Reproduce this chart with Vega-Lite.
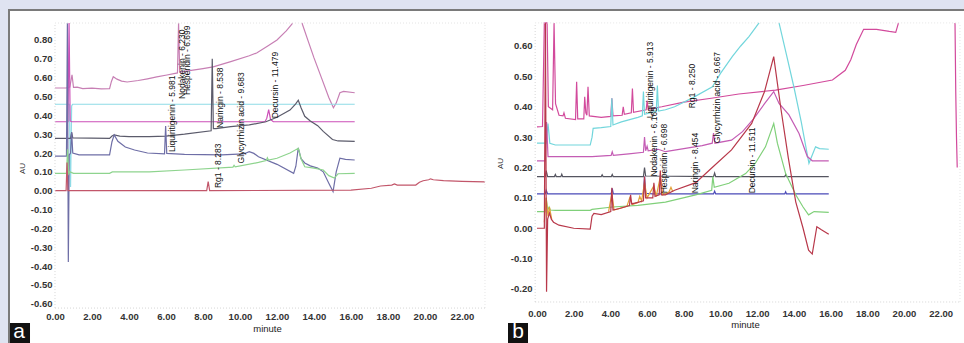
{
"$schema": "https://vega.github.io/schema/vega-lite/v6.json",
"background": "#dfe3f1",
"padding": {"left": 8, "top": 9, "right": 0, "bottom": 0},
"spacing": 0,
"config": {"view": {"stroke": null, "fill": "white"}, "concat": {"spacing": 0},
 "axis": {"domain": false, "ticks": false, "tickSize": 0, "grid": false, "labelFlush": false, "labelOverlap": false, "labelFont": "Liberation Sans", "labelFontSize": 9.5, "labelFontWeight": "bold", "labelColor": "#333", "titleFont": "Liberation Sans", "titleFontWeight": "normal", "titleColor": "#222"}},
"resolve": {"scale": {"color": "independent", "x": "independent", "y": "independent"}},
"datasets": {
"A": [
{"s":"mauve","g":1,"t":0,"v":0.545},{"s":"mauve","g":1,"t":0.6,"v":0.545},{"s":"mauve","g":1,"t":0.8,"v":0.55},{"s":"mauve","g":1,"t":0.92,"v":0.615},{"s":"mauve","g":1,"t":1.0,"v":0.548},{"s":"mauve","g":1,"t":1.2,"v":0.55},{"s":"mauve","g":1,"t":1.5,"v":0.542},{"s":"mauve","g":1,"t":2.0,"v":0.544},{"s":"mauve","g":1,"t":2.5,"v":0.54},{"s":"mauve","g":1,"t":2.95,"v":0.542},{"s":"mauve","g":1,"t":3.05,"v":0.58},{"s":"mauve","g":1,"t":3.15,"v":0.605},{"s":"mauve","g":1,"t":3.35,"v":0.592},{"s":"mauve","g":1,"t":3.6,"v":0.582},{"s":"mauve","g":1,"t":3.9,"v":0.577},{"s":"mauve","g":1,"t":4.5,"v":0.585},{"s":"mauve","g":1,"t":5.0,"v":0.594},{"s":"mauve","g":1,"t":5.5,"v":0.604},{"s":"mauve","g":1,"t":6.05,"v":0.614},{"s":"mauve","g":1,"t":6.62,"v":0.625},{"s":"mauve","g":1,"t":6.68,"v":0.89},{"s":"mauve","g":1,"t":6.74,"v":0.63},{"s":"mauve","g":1,"t":7.0,"v":0.633},{"s":"mauve","g":1,"t":8.0,"v":0.648},{"s":"mauve","g":1,"t":8.55,"v":0.657},{"s":"mauve","g":1,"t":9.5,"v":0.685},{"s":"mauve","g":1,"t":10.5,"v":0.716},{"s":"mauve","g":1,"t":10.9,"v":0.731},{"s":"mauve","g":1,"t":11.5,"v":0.768},{"s":"mauve","g":1,"t":12.0,"v":0.8},{"s":"mauve","g":1,"t":12.5,"v":0.848},{"s":"mauve","g":1,"t":12.85,"v":0.89},
{"s":"mauve","g":2,"t":13.35,"v":0.89},{"s":"mauve","g":2,"t":13.7,"v":0.79},{"s":"mauve","g":2,"t":14.0,"v":0.705},{"s":"mauve","g":2,"t":14.4,"v":0.6},{"s":"mauve","g":2,"t":14.8,"v":0.495},{"s":"mauve","g":2,"t":15.05,"v":0.44},{"s":"mauve","g":2,"t":15.2,"v":0.465},{"s":"mauve","g":2,"t":15.4,"v":0.52},{"s":"mauve","g":2,"t":15.6,"v":0.527},{"s":"mauve","g":2,"t":16.2,"v":0.52},
{"s":"cyan","g":1,"t":0,"v":0.459},{"s":"cyan","g":1,"t":0.78,"v":0.459},{"s":"cyan","g":1,"t":0.84,"v":0.02},{"s":"cyan","g":1,"t":0.9,"v":0.45},{"s":"cyan","g":1,"t":0.95,"v":0.459},{"s":"cyan","g":1,"t":16.2,"v":0.459},
{"s":"magenta","g":1,"t":0,"v":0.366},{"s":"magenta","g":1,"t":0.7,"v":0.366},{"s":"magenta","g":1,"t":0.76,"v":0.89},{"s":"magenta","g":1,"t":0.82,"v":0.37},{"s":"magenta","g":1,"t":0.9,"v":0.366},{"s":"magenta","g":1,"t":11.35,"v":0.366},{"s":"magenta","g":1,"t":11.45,"v":0.385},{"s":"magenta","g":1,"t":11.55,"v":0.43},{"s":"magenta","g":1,"t":11.65,"v":0.378},{"s":"magenta","g":1,"t":11.8,"v":0.366},{"s":"magenta","g":1,"t":16.2,"v":0.366},
{"s":"gray","g":1,"t":0,"v":0.278},{"s":"gray","g":1,"t":0.84,"v":0.278},{"s":"gray","g":1,"t":0.9,"v":0.31},{"s":"gray","g":1,"t":0.96,"v":0.28},{"s":"gray","g":1,"t":2.95,"v":0.278},{"s":"gray","g":1,"t":3.08,"v":0.29},{"s":"gray","g":1,"t":3.2,"v":0.296},{"s":"gray","g":1,"t":3.5,"v":0.29},{"s":"gray","g":1,"t":4.0,"v":0.287},{"s":"gray","g":1,"t":5.1,"v":0.287},{"s":"gray","g":1,"t":6.0,"v":0.29},{"s":"gray","g":1,"t":7.0,"v":0.3},{"s":"gray","g":1,"t":8.44,"v":0.318},{"s":"gray","g":1,"t":8.5,"v":0.7},{"s":"gray","g":1,"t":8.56,"v":0.33},{"s":"gray","g":1,"t":8.7,"v":0.33},{"s":"gray","g":1,"t":9.5,"v":0.34},{"s":"gray","g":1,"t":10.5,"v":0.349},{"s":"gray","g":1,"t":11.4,"v":0.366},{"s":"gray","g":1,"t":12.0,"v":0.39},{"s":"gray","g":1,"t":12.7,"v":0.428},{"s":"gray","g":1,"t":13.0,"v":0.46},{"s":"gray","g":1,"t":13.15,"v":0.48},{"s":"gray","g":1,"t":13.3,"v":0.44},{"s":"gray","g":1,"t":13.5,"v":0.395},{"s":"gray","g":1,"t":13.8,"v":0.37},{"s":"gray","g":1,"t":14.2,"v":0.345},{"s":"gray","g":1,"t":14.5,"v":0.315},{"s":"gray","g":1,"t":15.0,"v":0.272},{"s":"gray","g":1,"t":15.3,"v":0.264},{"s":"gray","g":1,"t":16.2,"v":0.262},
{"s":"slate","g":1,"t":0,"v":0.184},{"s":"slate","g":1,"t":0.62,"v":0.184},{"s":"slate","g":1,"t":0.67,"v":0.89},{"s":"slate","g":1,"t":0.72,"v":-0.378},{"s":"slate","g":1,"t":0.77,"v":0.19},{"s":"slate","g":1,"t":0.84,"v":0.2},{"s":"slate","g":1,"t":0.9,"v":0.31},{"s":"slate","g":1,"t":0.96,"v":0.2},{"s":"slate","g":1,"t":1.3,"v":0.19},{"s":"slate","g":1,"t":2.95,"v":0.19},{"s":"slate","g":1,"t":3.08,"v":0.26},{"s":"slate","g":1,"t":3.2,"v":0.296},{"s":"slate","g":1,"t":3.4,"v":0.262},{"s":"slate","g":1,"t":3.8,"v":0.232},{"s":"slate","g":1,"t":4.3,"v":0.216},{"s":"slate","g":1,"t":5.0,"v":0.2},{"s":"slate","g":1,"t":5.92,"v":0.195},{"s":"slate","g":1,"t":5.98,"v":0.343},{"s":"slate","g":1,"t":6.04,"v":0.198},{"s":"slate","g":1,"t":7.0,"v":0.193},{"s":"slate","g":1,"t":9.0,"v":0.19},{"s":"slate","g":1,"t":10.2,"v":0.195},{"s":"slate","g":1,"t":10.5,"v":0.207},{"s":"slate","g":1,"t":10.75,"v":0.198},{"s":"slate","g":1,"t":11.0,"v":0.18},{"s":"slate","g":1,"t":12.0,"v":0.14},{"s":"slate","g":1,"t":12.9,"v":0.092},{"s":"slate","g":1,"t":13.02,"v":0.13},{"s":"slate","g":1,"t":13.15,"v":0.227},{"s":"slate","g":1,"t":13.3,"v":0.17},{"s":"slate","g":1,"t":13.5,"v":0.147},{"s":"slate","g":1,"t":13.8,"v":0.132},{"s":"slate","g":1,"t":14.2,"v":0.12},{"s":"slate","g":1,"t":14.5,"v":0.1},{"s":"slate","g":1,"t":14.8,"v":0.04},{"s":"slate","g":1,"t":15.03,"v":-0.005},{"s":"slate","g":1,"t":15.2,"v":0.1},{"s":"slate","g":1,"t":15.4,"v":0.173},{"s":"slate","g":1,"t":15.7,"v":0.166},{"s":"slate","g":1,"t":16.2,"v":0.163},
{"s":"green","g":1,"t":0,"v":0.092},{"s":"green","g":1,"t":0.62,"v":0.092},{"s":"green","g":1,"t":0.68,"v":0.22},{"s":"green","g":1,"t":0.74,"v":0.09},{"s":"green","g":1,"t":0.8,"v":0.1},{"s":"green","g":1,"t":1.0,"v":0.092},{"s":"green","g":1,"t":2.95,"v":0.092},{"s":"green","g":1,"t":3.1,"v":0.1},{"s":"green","g":1,"t":5.1,"v":0.1},{"s":"green","g":1,"t":7.0,"v":0.11},{"s":"green","g":1,"t":9.62,"v":0.125},{"s":"green","g":1,"t":9.68,"v":0.135},{"s":"green","g":1,"t":9.74,"v":0.127},{"s":"green","g":1,"t":11.0,"v":0.15},{"s":"green","g":1,"t":11.42,"v":0.16},{"s":"green","g":1,"t":11.48,"v":0.175},{"s":"green","g":1,"t":11.54,"v":0.162},{"s":"green","g":1,"t":12.0,"v":0.172},{"s":"green","g":1,"t":12.7,"v":0.2},{"s":"green","g":1,"t":13.15,"v":0.225},{"s":"green","g":1,"t":13.3,"v":0.17},{"s":"green","g":1,"t":13.5,"v":0.127},{"s":"green","g":1,"t":14.0,"v":0.12},{"s":"green","g":1,"t":14.5,"v":0.11},{"s":"green","g":1,"t":14.8,"v":0.08},{"s":"green","g":1,"t":15.1,"v":0.067},{"s":"green","g":1,"t":15.3,"v":0.09},{"s":"green","g":1,"t":16.2,"v":0.092},
{"s":"red","g":1,"t":0,"v":0.0},{"s":"red","g":1,"t":0.6,"v":0.0},{"s":"red","g":1,"t":0.65,"v":0.15},{"s":"red","g":1,"t":0.7,"v":0.0},{"s":"red","g":1,"t":8.2,"v":0.0},{"s":"red","g":1,"t":8.28,"v":0.048},{"s":"red","g":1,"t":8.36,"v":0.0},{"s":"red","g":1,"t":16.0,"v":0.003},{"s":"red","g":1,"t":17.1,"v":0.013},{"s":"red","g":1,"t":17.6,"v":0.025},{"s":"red","g":1,"t":18.2,"v":0.03},{"s":"red","g":1,"t":18.35,"v":0.036},{"s":"red","g":1,"t":18.5,"v":0.03},{"s":"red","g":1,"t":19.5,"v":0.03},{"s":"red","g":1,"t":19.7,"v":0.045},{"s":"red","g":1,"t":19.9,"v":0.053},{"s":"red","g":1,"t":20.2,"v":0.058},{"s":"red","g":1,"t":20.3,"v":0.063},{"s":"red","g":1,"t":20.45,"v":0.058},{"s":"red","g":1,"t":21.0,"v":0.054},{"s":"red","g":1,"t":22.0,"v":0.05},{"s":"red","g":1,"t":23.24,"v":0.047}
],
"B": [
{"s":"pink","g":1,"t":0,"v":0.334},{"s":"pink","g":1,"t":0.3,"v":0.335},{"s":"pink","g":1,"t":0.4,"v":0.676},{"s":"pink","g":1,"t":0.55,"v":0.676},{"s":"pink","g":1,"t":0.62,"v":0.4},{"s":"pink","g":1,"t":0.85,"v":0.39},{"s":"pink","g":1,"t":0.93,"v":0.676},{"s":"pink","g":1,"t":1.01,"v":0.41},{"s":"pink","g":1,"t":1.2,"v":0.372},{"s":"pink","g":1,"t":1.42,"v":0.37},{"s":"pink","g":1,"t":1.47,"v":0.38},{"s":"pink","g":1,"t":1.55,"v":0.362},{"s":"pink","g":1,"t":2.1,"v":0.358},{"s":"pink","g":1,"t":2.16,"v":0.482},{"s":"pink","g":1,"t":2.22,"v":0.36},{"s":"pink","g":1,"t":2.55,"v":0.36},{"s":"pink","g":1,"t":2.6,"v":0.433},{"s":"pink","g":1,"t":2.66,"v":0.38},{"s":"pink","g":1,"t":2.72,"v":0.372},{"s":"pink","g":1,"t":2.78,"v":0.466},{"s":"pink","g":1,"t":2.85,"v":0.37},{"s":"pink","g":1,"t":3.5,"v":0.365},{"s":"pink","g":1,"t":4.02,"v":0.368},{"s":"pink","g":1,"t":4.08,"v":0.428},{"s":"pink","g":1,"t":4.14,"v":0.37},{"s":"pink","g":1,"t":4.64,"v":0.372},{"s":"pink","g":1,"t":4.7,"v":0.4},{"s":"pink","g":1,"t":4.76,"v":0.375},{"s":"pink","g":1,"t":5.14,"v":0.38},{"s":"pink","g":1,"t":5.2,"v":0.46},{"s":"pink","g":1,"t":5.26,"v":0.382},{"s":"pink","g":1,"t":5.95,"v":0.39},{"s":"pink","g":1,"t":6.0,"v":0.42},{"s":"pink","g":1,"t":6.06,"v":0.392},{"s":"pink","g":1,"t":6.8,"v":0.4},{"s":"pink","g":1,"t":8.0,"v":0.415},{"s":"pink","g":1,"t":9.5,"v":0.428},{"s":"pink","g":1,"t":11.0,"v":0.442},{"s":"pink","g":1,"t":13.0,"v":0.455},{"s":"pink","g":1,"t":14.5,"v":0.47},{"s":"pink","g":1,"t":16.1,"v":0.488},{"s":"pink","g":1,"t":16.8,"v":0.52},{"s":"pink","g":1,"t":17.1,"v":0.555},{"s":"pink","g":1,"t":17.4,"v":0.605},{"s":"pink","g":1,"t":17.8,"v":0.655},{"s":"pink","g":1,"t":18.5,"v":0.655},{"s":"pink","g":1,"t":19.2,"v":0.648},{"s":"pink","g":1,"t":19.55,"v":0.645},{"s":"pink","g":1,"t":19.7,"v":0.676},
{"s":"pink","g":2,"t":22.78,"v":0.676},{"s":"pink","g":2,"t":22.82,"v":0.45},{"s":"pink","g":2,"t":22.86,"v":0.3},{"s":"pink","g":2,"t":22.9,"v":0.2},
{"s":"cyan","g":1,"t":0,"v":0.28},{"s":"cyan","g":1,"t":0.5,"v":0.28},{"s":"cyan","g":1,"t":0.6,"v":0.345},{"s":"cyan","g":1,"t":0.7,"v":0.28},{"s":"cyan","g":1,"t":1.0,"v":0.274},{"s":"cyan","g":1,"t":2.9,"v":0.274},{"s":"cyan","g":1,"t":3.0,"v":0.3},{"s":"cyan","g":1,"t":3.06,"v":0.329},{"s":"cyan","g":1,"t":3.5,"v":0.331},{"s":"cyan","g":1,"t":4.02,"v":0.335},{"s":"cyan","g":1,"t":4.08,"v":0.428},{"s":"cyan","g":1,"t":4.14,"v":0.34},{"s":"cyan","g":1,"t":4.6,"v":0.35},{"s":"cyan","g":1,"t":5.0,"v":0.357},{"s":"cyan","g":1,"t":5.5,"v":0.365},{"s":"cyan","g":1,"t":5.74,"v":0.37},{"s":"cyan","g":1,"t":5.8,"v":0.45},{"s":"cyan","g":1,"t":5.86,"v":0.375},{"s":"cyan","g":1,"t":6.5,"v":0.385},{"s":"cyan","g":1,"t":6.56,"v":0.47},{"s":"cyan","g":1,"t":6.62,"v":0.386},{"s":"cyan","g":1,"t":7.0,"v":0.39},{"s":"cyan","g":1,"t":7.5,"v":0.4},{"s":"cyan","g":1,"t":8.5,"v":0.43},{"s":"cyan","g":1,"t":9.56,"v":0.466},{"s":"cyan","g":1,"t":10.0,"v":0.51},{"s":"cyan","g":1,"t":10.64,"v":0.565},{"s":"cyan","g":1,"t":11.1,"v":0.6},{"s":"cyan","g":1,"t":11.55,"v":0.631},{"s":"cyan","g":1,"t":12.1,"v":0.676},
{"s":"cyan","g":2,"t":13.19,"v":0.676},{"s":"cyan","g":2,"t":13.6,"v":0.57},{"s":"cyan","g":2,"t":14.0,"v":0.465},{"s":"cyan","g":2,"t":14.4,"v":0.35},{"s":"cyan","g":2,"t":14.82,"v":0.214},{"s":"cyan","g":2,"t":15.18,"v":0.268},{"s":"cyan","g":2,"t":15.4,"v":0.262},{"s":"cyan","g":2,"t":15.9,"v":0.26},
{"s":"magenta","g":1,"t":0,"v":0.222},{"s":"magenta","g":1,"t":0.45,"v":0.222},{"s":"magenta","g":1,"t":0.52,"v":0.35},{"s":"magenta","g":1,"t":0.6,"v":0.236},{"s":"magenta","g":1,"t":1.0,"v":0.236},{"s":"magenta","g":1,"t":3.0,"v":0.236},{"s":"magenta","g":1,"t":4.04,"v":0.24},{"s":"magenta","g":1,"t":4.1,"v":0.252},{"s":"magenta","g":1,"t":4.16,"v":0.24},{"s":"magenta","g":1,"t":5.0,"v":0.245},{"s":"magenta","g":1,"t":5.8,"v":0.25},{"s":"magenta","g":1,"t":5.86,"v":0.3},{"s":"magenta","g":1,"t":5.92,"v":0.255},{"s":"magenta","g":1,"t":6.0,"v":0.27},{"s":"magenta","g":1,"t":6.06,"v":0.255},{"s":"magenta","g":1,"t":6.6,"v":0.26},{"s":"magenta","g":1,"t":7.0,"v":0.252},{"s":"magenta","g":1,"t":8.0,"v":0.262},{"s":"magenta","g":1,"t":9.0,"v":0.272},{"s":"magenta","g":1,"t":9.55,"v":0.28},{"s":"magenta","g":1,"t":9.62,"v":0.313},{"s":"magenta","g":1,"t":9.7,"v":0.28},{"s":"magenta","g":1,"t":10.6,"v":0.29},{"s":"magenta","g":1,"t":11.2,"v":0.318},{"s":"magenta","g":1,"t":11.8,"v":0.36},{"s":"magenta","g":1,"t":12.4,"v":0.41},{"s":"magenta","g":1,"t":12.9,"v":0.45},{"s":"magenta","g":1,"t":13.19,"v":0.411},{"s":"magenta","g":1,"t":13.73,"v":0.373},{"s":"magenta","g":1,"t":14.28,"v":0.312},{"s":"magenta","g":1,"t":14.73,"v":0.236},{"s":"magenta","g":1,"t":15.0,"v":0.222},{"s":"magenta","g":1,"t":15.9,"v":0.222},
{"s":"gray","g":1,"t":0,"v":0.17},{"s":"gray","g":1,"t":0.45,"v":0.17},{"s":"gray","g":1,"t":0.5,"v":0.19},{"s":"gray","g":1,"t":0.58,"v":0.17},{"s":"gray","g":1,"t":0.95,"v":0.17},{"s":"gray","g":1,"t":1.0,"v":0.177},{"s":"gray","g":1,"t":1.05,"v":0.17},{"s":"gray","g":1,"t":1.3,"v":0.17},{"s":"gray","g":1,"t":1.35,"v":0.178},{"s":"gray","g":1,"t":1.4,"v":0.17},{"s":"gray","g":1,"t":3.5,"v":0.17},{"s":"gray","g":1,"t":3.55,"v":0.176},{"s":"gray","g":1,"t":3.6,"v":0.17},{"s":"gray","g":1,"t":4.05,"v":0.17},{"s":"gray","g":1,"t":4.1,"v":0.177},{"s":"gray","g":1,"t":4.15,"v":0.17},{"s":"gray","g":1,"t":5.8,"v":0.17},{"s":"gray","g":1,"t":5.86,"v":0.2},{"s":"gray","g":1,"t":5.92,"v":0.172},{"s":"gray","g":1,"t":9.62,"v":0.17},{"s":"gray","g":1,"t":9.68,"v":0.182},{"s":"gray","g":1,"t":9.74,"v":0.17},{"s":"gray","g":1,"t":13.5,"v":0.17},{"s":"gray","g":1,"t":13.55,"v":0.176},{"s":"gray","g":1,"t":13.6,"v":0.17},{"s":"gray","g":1,"t":15.9,"v":0.17},
{"s":"blue","g":1,"t":0,"v":0.113},{"s":"blue","g":1,"t":0.45,"v":0.113},{"s":"blue","g":1,"t":0.5,"v":0.125},{"s":"blue","g":1,"t":0.58,"v":0.113},{"s":"blue","g":1,"t":4.04,"v":0.113},{"s":"blue","g":1,"t":4.1,"v":0.131},{"s":"blue","g":1,"t":4.16,"v":0.113},{"s":"blue","g":1,"t":5.8,"v":0.113},{"s":"blue","g":1,"t":5.86,"v":0.17},{"s":"blue","g":1,"t":5.92,"v":0.115},{"s":"blue","g":1,"t":6.3,"v":0.113},{"s":"blue","g":1,"t":9.62,"v":0.113},{"s":"blue","g":1,"t":9.68,"v":0.122},{"s":"blue","g":1,"t":9.74,"v":0.113},{"s":"blue","g":1,"t":13.5,"v":0.113},{"s":"blue","g":1,"t":13.55,"v":0.12},{"s":"blue","g":1,"t":13.6,"v":0.113},{"s":"blue","g":1,"t":15.9,"v":0.113},
{"s":"green","g":1,"t":0,"v":0.055},{"s":"green","g":1,"t":0.45,"v":0.055},{"s":"green","g":1,"t":0.5,"v":0.1},{"s":"green","g":1,"t":0.58,"v":0.06},{"s":"green","g":1,"t":0.66,"v":0.07},{"s":"green","g":1,"t":0.72,"v":0.06},{"s":"green","g":1,"t":1.0,"v":0.059},{"s":"green","g":1,"t":2.9,"v":0.059},{"s":"green","g":1,"t":3.0,"v":0.062},{"s":"green","g":1,"t":4.1,"v":0.07},{"s":"green","g":1,"t":5.5,"v":0.075},{"s":"green","g":1,"t":7.0,"v":0.086},{"s":"green","g":1,"t":8.65,"v":0.11},{"s":"green","g":1,"t":9.52,"v":0.125},{"s":"green","g":1,"t":9.58,"v":0.17},{"s":"green","g":1,"t":9.66,"v":0.135},{"s":"green","g":1,"t":10.46,"v":0.148},{"s":"green","g":1,"t":11.37,"v":0.18},{"s":"green","g":1,"t":11.9,"v":0.214},{"s":"green","g":1,"t":12.45,"v":0.268},{"s":"green","g":1,"t":12.9,"v":0.345},{"s":"green","g":1,"t":13.1,"v":0.28},{"s":"green","g":1,"t":13.55,"v":0.18},{"s":"green","g":1,"t":14.1,"v":0.11},{"s":"green","g":1,"t":14.5,"v":0.07},{"s":"green","g":1,"t":14.8,"v":0.044},{"s":"green","g":1,"t":15.1,"v":0.055},{"s":"green","g":1,"t":15.9,"v":0.052},
{"s":"orange","g":1,"t":0.4,"v":0.02},{"s":"orange","g":1,"t":0.5,"v":0.1},{"s":"orange","g":1,"t":0.6,"v":0.04},{"s":"orange","g":1,"t":0.68,"v":0.07},{"s":"orange","g":1,"t":0.8,"v":0.03},
{"s":"orange","g":2,"t":3.9,"v":0.055},{"s":"orange","g":2,"t":4.08,"v":0.115},{"s":"orange","g":2,"t":4.2,"v":0.06},{"s":"orange","g":2,"t":4.9,"v":0.072},{"s":"orange","g":2,"t":5.05,"v":0.1},{"s":"orange","g":2,"t":5.2,"v":0.078},{"s":"orange","g":2,"t":5.5,"v":0.085},{"s":"orange","g":2,"t":5.6,"v":0.105},{"s":"orange","g":2,"t":5.7,"v":0.09},{"s":"orange","g":2,"t":5.86,"v":0.15},{"s":"orange","g":2,"t":6.0,"v":0.1},{"s":"orange","g":2,"t":6.37,"v":0.14},{"s":"orange","g":2,"t":6.5,"v":0.105},{"s":"orange","g":2,"t":6.72,"v":0.17},{"s":"orange","g":2,"t":6.85,"v":0.11},{"s":"orange","g":2,"t":7.2,"v":0.12},{"s":"orange","g":2,"t":7.3,"v":0.135},{"s":"orange","g":2,"t":7.4,"v":0.12},
{"s":"red","g":1,"t":0,"v":0.0},{"s":"red","g":1,"t":0.4,"v":0.0},{"s":"red","g":1,"t":0.46,"v":0.676},{"s":"red","g":1,"t":0.52,"v":-0.209},{"s":"red","g":1,"t":0.58,"v":0.03},{"s":"red","g":1,"t":0.68,"v":0.05},{"s":"red","g":1,"t":0.78,"v":0.03},{"s":"red","g":1,"t":0.9,"v":0.02},{"s":"red","g":1,"t":1.2,"v":0.01},{"s":"red","g":1,"t":2.0,"v":0.0},{"s":"red","g":1,"t":2.9,"v":-0.003},{"s":"red","g":1,"t":3.0,"v":0.04},{"s":"red","g":1,"t":3.1,"v":0.049},{"s":"red","g":1,"t":3.5,"v":0.045},{"s":"red","g":1,"t":4.02,"v":0.055},{"s":"red","g":1,"t":4.08,"v":0.133},{"s":"red","g":1,"t":4.14,"v":0.06},{"s":"red","g":1,"t":4.5,"v":0.065},{"s":"red","g":1,"t":5.04,"v":0.075},{"s":"red","g":1,"t":5.1,"v":0.11},{"s":"red","g":1,"t":5.16,"v":0.08},{"s":"red","g":1,"t":5.5,"v":0.085},{"s":"red","g":1,"t":5.8,"v":0.09},{"s":"red","g":1,"t":5.86,"v":0.17},{"s":"red","g":1,"t":5.92,"v":0.1},{"s":"red","g":1,"t":6.31,"v":0.1},{"s":"red","g":1,"t":6.37,"v":0.15},{"s":"red","g":1,"t":6.43,"v":0.105},{"s":"red","g":1,"t":6.66,"v":0.11},{"s":"red","g":1,"t":6.72,"v":0.19},{"s":"red","g":1,"t":6.78,"v":0.11},{"s":"red","g":1,"t":7.0,"v":0.11},{"s":"red","g":1,"t":7.5,"v":0.125},{"s":"red","g":1,"t":8.65,"v":0.15},{"s":"red","g":1,"t":9.55,"v":0.2},{"s":"red","g":1,"t":10.6,"v":0.258},{"s":"red","g":1,"t":11.7,"v":0.345},{"s":"red","g":1,"t":12.4,"v":0.45},{"s":"red","g":1,"t":12.9,"v":0.565},{"s":"red","g":1,"t":13.3,"v":0.39},{"s":"red","g":1,"t":13.7,"v":0.23},{"s":"red","g":1,"t":14.1,"v":0.087},{"s":"red","g":1,"t":14.5,"v":0.0},{"s":"red","g":1,"t":14.8,"v":-0.072},{"s":"red","g":1,"t":15.0,"v":-0.085},{"s":"red","g":1,"t":15.25,"v":0.005},{"s":"red","g":1,"t":15.5,"v":-0.005},{"s":"red","g":1,"t":15.9,"v":-0.02}
],
"LA": [
{"label":"Liquiritigenin - 5.981","t":6.32,"v":0.205},
{"label":"Nodakenin - 6.230","t":6.84,"v":0.487},
{"label":"Hesperidin - 6.699","t":7.14,"v":0.508},
{"label":"Naringin - 8.538","t":8.92,"v":0.333},
{"label":"Glycyrrhizin acid - 9.683","t":10.04,"v":0.145},
{"label":"Decursin - 11.479","t":11.89,"v":0.384},
{"label":"Rg1 - 8.283","t":8.83,"v":0.014}
],
"LB": [
{"label":"Liquiritigenin - 5.913","t":6.16,"v":0.362},
{"label":"Nodakenin - 6.165","t":6.38,"v":0.17},
{"label":"Hesperidin - 6.698","t":6.92,"v":0.115},
{"label":"Rg1 - 8.250","t":8.43,"v":0.395},
{"label":"Glycyrrhizin acid - 9.667","t":9.79,"v":0.28},
{"label":"Naringin - 8.454","t":8.61,"v":0.115},
{"label":"Decursin - 11.511","t":11.7,"v":0.115}
],
"ONE": [{"k": 1}]
},
"hconcat": [
{
"width": 482, "height": 334,
"encoding": {
  "x": {"type": "quantitative", "scale": {"domain": [-2.5405, 23.5135], "nice": false, "zero": false},
   "axis": {"orient": "bottom", "offset": -35, "values": [0,2,4,6,8,10,12,14,16,18,20,22], "format": ".2f", "labelBaseline": "middle", "labelPadding": 8.7, "title": "minute", "titleFontSize": 9.5, "titleX": 259, "titleY": 20.3, "titleAlign": "center", "titleBaseline": "middle"}},
  "y": {"type": "quantitative", "scale": {"domain": [-0.80839, 0.96444], "nice": false, "zero": false},
   "axis": {"orient": "left", "offset": -47, "values": [0.8,0.7,0.6,0.5,0.4,0.3,0.2,0.1,0,-0.1,-0.2,-0.3,-0.4,-0.5,-0.6], "labelExpr": "replace(format(datum.value, '.2f'), '\u2212', '-')", "labelPadding": 3, "title": "AU", "titleFontSize": 8, "titleColor": "#333", "titleX": -33, "titleY": 159, "titleAngle": 270, "titleAlign": "center", "titleBaseline": "middle"}}
},
"layer": [
{"data": {"name": "A"},
 "mark": {"type": "line", "clip": true, "strokeWidth": 1.2},
 "encoding": {
  "x": {"field": "t"},
  "y": {"field": "v"},
  "color": {"field": "s", "type": "nominal", "legend": null, "scale": {"domain": ["mauve","cyan","magenta","gray","slate","green","red"], "range": ["#c77fb4","#8fdbe6","#cc4fb8","#5b5b6b","#6e6ea6","#8ed48e","#c2566a"]}},
  "detail": {"field": "g", "type": "nominal"}
 }},
{"data": {"name": "ONE"}, "mark": {"type": "rule", "color": "#d6d6d6", "strokeDash": [1, 2], "clip": true},
 "encoding": {"x": {"datum": 0}, "y": {"datum": -0.623}, "y2": {"datum": 0.89}}},
{"data": {"name": "ONE"}, "mark": {"type": "rule", "color": "#e4e4e4", "strokeDash": [1, 2], "clip": true},
 "encoding": {"x": {"datum": 23.243}, "y": {"datum": -0.623}, "y2": {"datum": 0.89}}},
{"data": {"name": "ONE"}, "mark": {"type": "rule", "color": "#e4e4e4", "strokeDash": [1, 2], "clip": true},
 "encoding": {"y": {"datum": 0.89}, "x": {"datum": 0}, "x2": {"datum": 23.243}}},
{"data": {"name": "ONE"}, "mark": {"type": "rule", "color": "#d6d6d6", "strokeDash": [1, 2], "clip": true},
 "encoding": {"y": {"datum": -0.623}, "x": {"datum": 0}, "x2": {"datum": 23.243}}},
{"data": {"name": "LA"},
 "mark": {"type": "text", "angle": 270, "align": "left", "baseline": "middle", "font": "Liberation Sans", "fontSize": 8.5, "color": "#111"},
 "encoding": {"x": {"field": "t"}, "y": {"field": "v"}, "text": {"field": "label"}}},
{"data": {"name": "ONE"}, "mark": {"type": "rect", "color": "#111111", "clip": true},
 "encoding": {"x": {"datum": -2.54}, "x2": {"datum": -1.351}, "y": {"datum": -0.7023}, "y2": {"datum": -0.8084}}},
{"data": {"name": "ONE"}, "mark": {"type": "text", "text": "a", "color": "white", "fontSize": 21, "font": "Liberation Sans", "align": "center", "baseline": "middle"},
 "encoding": {"x": {"datum": -1.946}, "y": {"datum": -0.752}}},
{"data": {"name": "ONE"}, "mark": {"type": "rule", "color": "#7a7a7a", "strokeWidth": 2, "clip": true},
 "encoding": {"y": {"datum": 0.95913}, "x": {"datum": -2.5405}, "x2": {"datum": 23.5135}}},
{"data": {"name": "ONE"}, "mark": {"type": "rule", "color": "#7a7a7a", "strokeWidth": 2, "clip": true},
 "encoding": {"x": {"datum": -2.4865}, "y": {"datum": -0.80839}, "y2": {"datum": 0.96444}}}
]
},
{
"width": 474, "height": 334,
"encoding": {
  "x": {"type": "quantitative", "scale": {"domain": [-2.5613, 23.2698], "nice": false, "zero": false},
   "axis": {"orient": "bottom", "offset": -41, "values": [0,2,4,6,8,10,12,14,16,18,20,22], "format": ".2f", "labelBaseline": "middle", "labelPadding": 11.3, "title": "minute", "titleFontSize": 9.5, "titleX": 255, "titleY": 22, "titleAlign": "center", "titleBaseline": "middle"}},
  "y": {"type": "quantitative", "scale": {"domain": [-0.37778, 0.72181], "nice": false, "zero": false},
   "axis": {"orient": "left", "offset": -45, "values": [0.6,0.5,0.4,0.3,0.2,0.1,0,-0.1,-0.2], "labelExpr": "replace(format(datum.value, '.2f'), '\u2212', '-')", "labelPadding": 3, "title": "AU", "titleFontSize": 8, "titleColor": "#333", "titleX": -35, "titleY": 154, "titleAngle": 270, "titleAlign": "center", "titleBaseline": "middle"}}
},
"layer": [
{"data": {"name": "B"},
 "mark": {"type": "line", "clip": true, "strokeWidth": 1.2},
 "encoding": {
  "x": {"field": "t"},
  "y": {"field": "v"},
  "color": {"field": "s", "type": "nominal", "legend": null, "scale": {"domain": ["pink","cyan","magenta","gray","blue","green","orange","red"], "range": ["#d24a9c","#72d6dc","#c45cb4","#555560","#4a4ab8","#80d07a","#e3a13a","#b8384a"]}},
  "detail": {"field": "g", "type": "nominal"}
 }},
{"data": {"name": "ONE"}, "mark": {"type": "rule", "color": "#d6d6d6", "strokeDash": [1, 2], "clip": true},
 "encoding": {"x": {"datum": -0.1}, "y": {"datum": -0.2428}, "y2": {"datum": 0.676}}},
{"data": {"name": "ONE"}, "mark": {"type": "rule", "color": "#e4e4e4", "strokeDash": [1, 2], "clip": true},
 "encoding": {"x": {"datum": 23.05}, "y": {"datum": -0.2428}, "y2": {"datum": 0.676}}},
{"data": {"name": "ONE"}, "mark": {"type": "rule", "color": "#e4e4e4", "strokeDash": [1, 2], "clip": true},
 "encoding": {"y": {"datum": 0.676}, "x": {"datum": -0.1}, "x2": {"datum": 23.05}}},
{"data": {"name": "ONE"}, "mark": {"type": "rule", "color": "#d6d6d6", "strokeDash": [1, 2], "clip": true},
 "encoding": {"y": {"datum": -0.2428}, "x": {"datum": -0.1}, "x2": {"datum": 23.05}}},
{"data": {"name": "LB"},
 "mark": {"type": "text", "angle": 270, "align": "left", "baseline": "middle", "font": "Liberation Sans", "fontSize": 8.5, "color": "#111"},
 "encoding": {"x": {"field": "t"}, "y": {"field": "v"}, "text": {"field": "label"}}},
{"data": {"name": "ONE"}, "mark": {"type": "rect", "color": "#111111", "clip": true},
 "encoding": {"x": {"datum": -1.58}, "x2": {"datum": -0.49}, "y": {"datum": -0.3119}, "y2": {"datum": -0.3778}}},
{"data": {"name": "ONE"}, "mark": {"type": "text", "text": "b", "color": "white", "fontSize": 21, "font": "Liberation Sans", "align": "center", "baseline": "middle"},
 "encoding": {"x": {"datum": -1.035}, "y": {"datum": -0.343}}},
{"data": {"name": "ONE"}, "mark": {"type": "rule", "color": "#7a7a7a", "strokeWidth": 2, "clip": true},
 "encoding": {"y": {"datum": 0.71852}, "x": {"datum": -2.5613}, "x2": {"datum": 23.2698}}}
]
}
]
}
